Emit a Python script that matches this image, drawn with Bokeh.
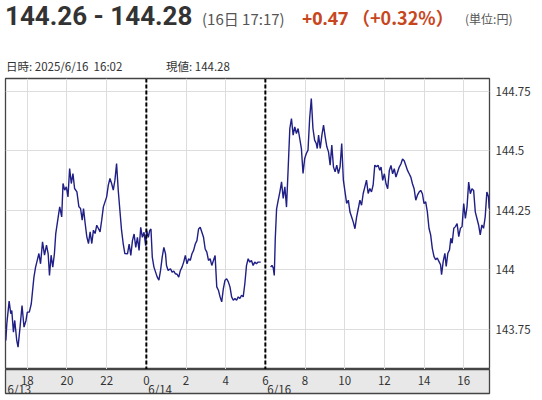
from bokeh.plotting import figure
from bokeh.layouts import column
from bokeh.models import Range1d, FixedTicker, NumeralTickFormatter, Span, Label, Div
from bokeh.embed import file_html
from bokeh.resources import INLINE

# ---------------- data ----------------
# Session 1: minutes after 2025/6/13 00:00 (runs past midnight into 6/14)
s1_min = [1015,1018,1025,1030,1033,1038,1042,1048,1052,1058,1064,1070,1076,1080,1086,1092,1096,1100,1105,1110,
          1115,1120,1126,1132,1138,1143,1147,1152,1157,1162,1166,1172,1178,1184,1188,1193,1198,1203,1208,1213,
          1218,1223,1230,1236,1241,1246,1250,1255,1260,1265,1270,1275,1280,1285,1290,1295,1300,1305,1310,1315,
          1320,1325,1330,1335,1340,1345,1350,1355,1360,1365,1370,1375,
          1383,1388,1393,1398,1403,1408,1413,1418,1423,1428,1433,1438,1441,1446,1450,1454,1458,1463,1468,1473,
          1478,1483,1488,1493,1498,1501,1506,1513,1518,1523,1528,1533,1538,1543,1548,1553,1558,1563,1568,1573,
          1578,1583,1588,1593,1598,1603,1608,1613,1618,1623,1628,1633,1638,1643,1648,1653,1658,1663,1668,1673,
          1678,1683,1688,1693,1698,1703,1708,1713,1718,1723,1728,1733,1738,1743,1748,1753,1758,1763,1768,1773,
          1778,1786]
s1_val = [143.703,143.773,143.868,143.815,143.829,143.738,143.787,143.703,143.675,143.759,
          143.85,143.759,143.787,143.822,143.822,143.857,143.913,143.969,144.011,144.039,
          144.068,144.025,144.117,144.061,144.103,144.068,143.976,144.061,144.011,144.068,
          144.152,144.208,144.264,144.222,144.362,144.334,144.348,144.306,144.425,144.362,
          144.404,144.341,144.327,144.264,144.257,144.208,144.257,144.194,144.138,144.11,
          144.159,144.11,144.166,144.152,144.187,144.173,144.159,144.208,144.264,144.285,
          144.306,144.355,144.383,144.362,144.334,144.376,144.446,144.334,144.25,144.166,
          144.11,144.068,
          144.067,144.108,144.06,144.122,144.15,144.094,144.136,144.081,144.178,144.136,
          144.157,144.101,144.164,144.136,144.164,144.171,144.053,144.011,143.99,143.969,
          143.956,143.997,144.053,144.094,144.067,144.018,143.997,144.004,143.99,143.994,
          143.983,143.981,143.969,143.997,144.011,144.032,144.06,144.025,144.046,144.039,
          144.067,144.081,144.108,144.122,144.171,144.178,144.157,144.136,144.087,144.074,
          144.039,144.046,144.018,144.039,144.06,143.928,143.914,143.886,143.865,143.921,
          143.956,143.962,143.949,143.928,143.886,143.872,143.879,143.872,143.886,143.879,
          143.893,143.886,143.942,144.018,144.046,144.032,144.039,144.018,144.032,144.025,
          144.032,144.032]

# Session 2: minutes after 2025/6/16 00:00
s2_min = [376,380,384,387,390,394,399,404,409,414,419,424,429,434,439,444,449,454,459,464,
          469,474,479,484,489,494,499,504,509,514,517,521,526,531,536,541,546,551,556,561,
          566,571,576,581,586,591,596,601,606,611,616,621,626,631,636,641,646,651,656,661,
          666,671,676,681,686,691,696,701,706,
          710,715,720,725,730,735,740,745,750,755,760,765,770,775,780,785,790,795,800,805,
          810,815,820,825,830,835,840,845,850,855,860,865,870,875,880,885,890,893,898,903,
          907,912,917,921,925,930,935,940,945,950,955,960,965,970,975,980,985,990,995,1000,
          1005,1010,1015,1020,1025,1030,1035,1037]
s2_val = [144.011,144.018,144.007,143.976,144.13,144.256,144.292,144.327,144.369,144.299,
          144.348,144.263,144.425,144.593,144.635,144.565,144.6,144.572,144.593,144.551,
          144.509,144.404,144.467,144.488,144.502,144.635,144.719,144.593,144.544,144.53,
          144.509,144.565,144.509,144.565,144.607,144.558,144.516,144.495,144.439,144.523,
          144.432,144.411,144.439,144.404,144.432,144.53,144.376,144.327,144.278,144.292,
          144.242,144.221,144.2,144.172,144.221,144.256,144.292,144.271,144.32,144.348,
          144.376,144.32,144.341,144.327,144.355,144.439,144.432,144.439,144.418,
          144.431,144.375,144.403,144.361,144.34,144.417,144.438,144.403,144.424,144.389,
          144.41,144.431,144.444,144.465,144.458,144.438,144.417,144.403,144.389,144.361,
          144.34,144.292,144.313,144.326,144.333,144.319,144.278,144.285,144.243,144.174,
          144.146,144.09,144.056,144.042,144.049,144.035,144.021,143.979,144.035,144.069,
          144.014,144.069,144.083,144.132,144.111,144.174,144.181,144.194,144.139,144.174,
          144.181,144.278,144.215,144.264,144.368,144.319,144.34,144.333,144.243,144.215,
          144.188,144.146,144.188,144.174,144.222,144.326,144.306,144.257]

# trading-clock offsets (weekend removed: 6/14 06:00 joins 6/16 06:00)
day_offset = {"6/13": 0, "6/14": 1440, "6/16": 1440}

tick_hours = [18, 20, 22, 0, 2, 4, 6, 8, 10, 12, 14, 16]
tick_days = ["6/13", "6/13", "6/13", "6/14", "6/14", "6/14", "6/16", "6/16", "6/16", "6/16", "6/16", "6/16"]

day_labels = ["6/13", "6/14", "6/16"]
day_first_minute = [0, 0, 360]
dividers = [("6/14", 0), ("6/16", 360)]

y_ticks = [143.75, 144.0, 144.25, 144.5, 144.75]

x_start = ("6/13", 16 * 60 + 54)
x_end = ("6/16", 17 * 60 + 18)
y_low, y_high = 143.581, 144.803

title_price = "144.26 - 144.28"
title_time = "(16日 17:17)"
change_abs = "+0.47"
change_pct = "（+0.32%）"
unit_text = "(単位:円)"
info_time = "日時: 2025/6/16  16:02"
info_value = "現値: 144.28"

# ---------------- layout constants ----------------
W = 542
FW, PLOT_H, BAND = 484, 291, 24
HEAD_H = 77
LEFT, RIGHT = 5, 542 - 5 - 484
CJK = "Noto Sans CJK JP"
LAT = "Open Sans"
RED = "#c8461e"

def cx(day, minute):
    return day_offset[day] + minute

xs1 = [cx("6/13", m) for m in s1_min]
xs2 = [cx("6/16", m) for m in s2_min]
x0 = cx(*x_start)
x1 = cx(*x_end)
xr = Range1d(x0, x1)

# ---------------- header (HTML text) ----------------
def span(text, left, top, font, size, color, weight="normal"):
    return (f'<span style="position:absolute;left:{left}px;top:{top}px;font-family:\'{font}\';'
            f'font-size:{size}px;font-weight:{weight};color:{color};line-height:1;'
            f'white-space:pre;">{text}</span>')

header_html = ('<div style="position:relative;width:542px;height:%dpx;">' % HEAD_H
               + span(title_price, 5, 3, "Roboto", 26, "#333333", "bold")
               + span(title_time, 202, 11, CJK, 15, "#555555")
               + span(change_abs, 302, 9, LAT, 18, RED, "bold")
               + span(change_pct, 352, 8, CJK, 18, RED, "bold")
               + span(unit_text, 465, 13, CJK, 12, "#555555")
               + span(info_time, 6, 61, CJK, 11.5, "#333333")
               + span(info_value, 166, 61, CJK, 11.5, "#333333")
               + '</div>')
header = Div(text=header_html, width=W, height=HEAD_H, margin=(0, 0, 0, 0))

# ---------------- main price figure ----------------
p = figure(width=W, height=1 + PLOT_H,
           x_range=xr, y_range=Range1d(y_low, y_high),
           x_axis_location=None, y_axis_location="right",
           toolbar_location=None, output_backend="svg",
           min_border_left=LEFT, min_border_right=RIGHT, min_border_top=1, min_border_bottom=0)
p.background_fill_color = "white"
p.border_fill_color = "white"
p.outline_line_color = "#444444"
p.outline_line_width = 1.3

tick_pos = [cx(d, h * 60) for h, d in zip(tick_hours, tick_days)]
p.xgrid.ticker = FixedTicker(ticks=tick_pos)
p.ygrid.ticker = FixedTicker(ticks=y_ticks)
p.xgrid.grid_line_color = "#dddddd"
p.ygrid.grid_line_color = "#dddddd"

p.yaxis.ticker = FixedTicker(ticks=y_ticks)
p.yaxis.formatter = NumeralTickFormatter(format="0.[00]")
p.yaxis.axis_line_color = None
p.yaxis.major_tick_line_color = None
p.yaxis.minor_tick_line_color = None
p.yaxis.major_tick_out = 0
p.yaxis.major_tick_in = 0
p.yaxis.major_label_standoff = 6
p.yaxis.major_label_text_font = CJK
p.yaxis.major_label_text_font_size = "11.5px"
p.yaxis.major_label_text_color = "#333333"

for d, m in dividers:
    p.add_layout(Span(location=cx(d, m), dimension="height", line_color="black",
                      line_width=2, line_dash="4 2"))

p.line(xs1, s1_val, line_color="#1f1f86", line_width=1.4)
p.line(xs2, s2_val, line_color="#1f1f86", line_width=1.4)

# ---------------- time-axis band ----------------
b = figure(width=W, height=400 - HEAD_H - 1 - PLOT_H,
           x_range=xr, y_range=Range1d(0, 1),
           x_axis_location=None, y_axis_location=None,
           toolbar_location=None, output_backend="svg",
           min_border_left=LEFT, min_border_right=RIGHT, min_border_top=0,
           min_border_bottom=400 - HEAD_H - 1 - PLOT_H - BAND)
b.background_fill_color = "#e8e8e8"
b.border_fill_color = "white"
b.outline_line_color = "#444444"
b.outline_line_width = 1.3
b.grid.visible = False

for h, t in zip(tick_hours, tick_pos):
    b.add_layout(Label(x=t, y=13, y_units="screen", text=str(h), text_align="center",
                       text_font=CJK, text_font_size="11.5px", text_color="#333333",
                       text_baseline="alphabetic"))

for lab, m in zip(day_labels, day_first_minute):
    b.add_layout(Label(x=max(cx(lab, m), x0), y=4.5, y_units="screen", x_offset=2,
                       text=lab, text_align="left", text_font=CJK, text_font_size="11.5px",
                       text_color="#333333", text_baseline="alphabetic"))

layout = column(header, p, b, spacing=0)
open("out.html", "w").write(file_html(layout, INLINE))
